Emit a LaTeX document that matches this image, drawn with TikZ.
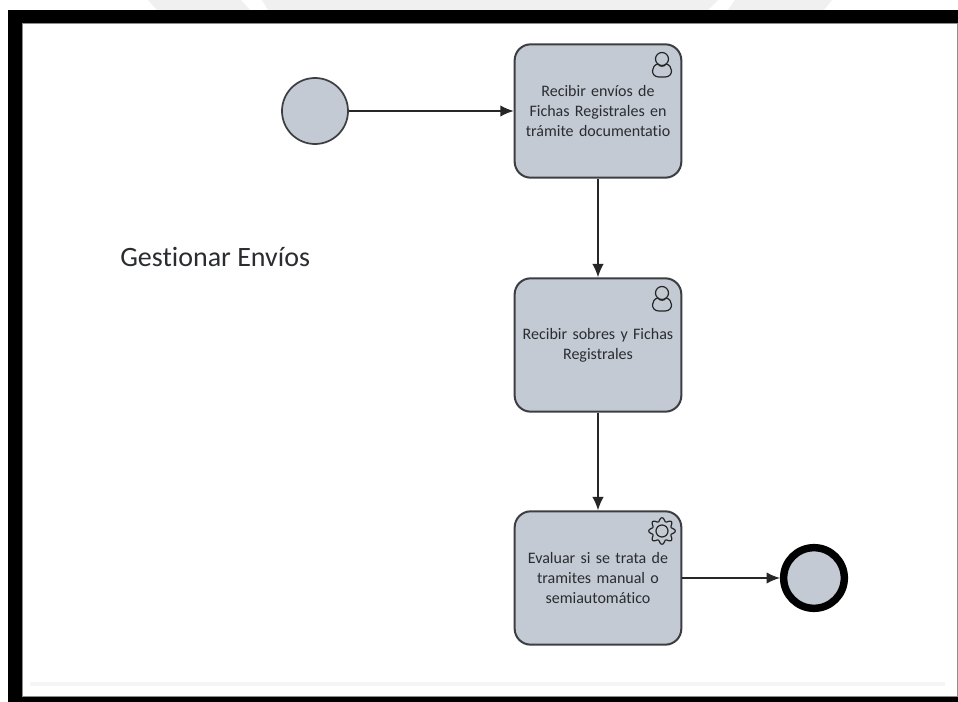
\documentclass[tikz,border=0pt]{standalone}
\usepackage{fontspec}
\setmainfont[Ligatures=NoCommon]{Carlito}
\usetikzlibrary{arrows.meta}
\definecolor{fillgray}{HTML}{C3CAD3}
\definecolor{edgegray}{HTML}{3C3E42}
\definecolor{inktext}{HTML}{2A2C30}
\definecolor{markgray}{HTML}{F0F0F0}
\tikzset{
  x=0.75pt,y=-0.75pt,
  taskbox/.style={draw=edgegray,fill=fillgray,line width=1.5pt,rounded corners=12pt,
    minimum width=125pt,minimum height=100pt,inner sep=1pt,text width=122pt,align=center,
    text=inktext,font=\fontsize{12}{15}\selectfont},
  startev/.style={circle,draw=edgegray,fill=fillgray,line width=1.3pt,minimum size=49.5pt,inner sep=0pt},
  endev/.style={circle,draw=black,fill=fillgray,line width=5.6pt,minimum size=45.5pt,inner sep=0pt},
  flow/.style={draw=black!85,line width=1.05pt,-{Latex[length=10pt,width=8.5pt]}},
  iconline/.style={draw=black!85,line width=0.9pt,fill=none},
  titletext/.style={text=inktext,font=\fontsize{21}{25}\selectfont,inner sep=0pt},
}
\begin{document}
\begin{tikzpicture}
\useasboundingbox (0,0) rectangle (958,702);
\fill[white] (0,0) rectangle (958,702);
% faint watermark remnants above the frame
\fill[markgray] (148,0) -- (241,0) -- (250,10) -- (157,10) -- cycle;
\fill[markgray] (262,0) -- (718,0) -- (708,10) -- (268,10) -- cycle;
\fill[markgray] (735,0) -- (832,0) -- (824,10) -- (728,10) -- cycle;
% frame
\fill[black] (8,10) rectangle (958,702);
\fill[white] (22,23) rectangle (957,696);
\draw[black!45,line width=0.6pt] (22,696) -- (22,23) -- (957,23) -- (957,696) -- (22,696);
\fill[black!4] (30,682) rectangle (945,686);
% events and tasks
\node[startev] (start) at (315,111) {};
\node[taskbox] (t1) at (598,111) {Recibir envíos de\\Fichas Registrales en\\trámite documentatio};
\node[taskbox] (t2) at (598,345) {Recibir sobres y Fichas\\Registrales};
\node[taskbox] (t3) at (598,578) {Evaluar si se trata de\\tramites manual o\\semiautomático};
\node[endev] (finish) at (814,578) {};
\node[titletext,anchor=west] (title) at (120,257) {Gestionar Envíos};
% flows
\draw[flow] (start) -- (t1);
\draw[flow] (t1) -- (t2);
\draw[flow] (t2) -- (t3);
\draw[flow] (t3) -- (finish);
% user icons
\foreach \uy in {59,293}{
  \draw[iconline] (662,\uy) circle (6.5);
  \draw[iconline] (658,\uy+5) .. controls (651,\uy+6) and (650,\uy+18) .. (659,\uy+18)
     -- (665,\uy+18) .. controls (674,\uy+18) and (673,\uy+6) .. (666,\uy+5);
  \draw[iconline] (658,\uy+5) .. controls (659,\uy+8) and (665,\uy+8) .. (666,\uy+5);
}
% gear icon
\draw[iconline] plot[smooth,samples=73,domain=0:360,variable=\a]
  ({662+(11.5+1.8*cos(8*\a))*cos(\a)},{531+(11.5+1.8*cos(8*\a))*sin(\a)}) -- cycle;
\draw[iconline] (662,531) circle (6);
\end{tikzpicture}
\end{document}
